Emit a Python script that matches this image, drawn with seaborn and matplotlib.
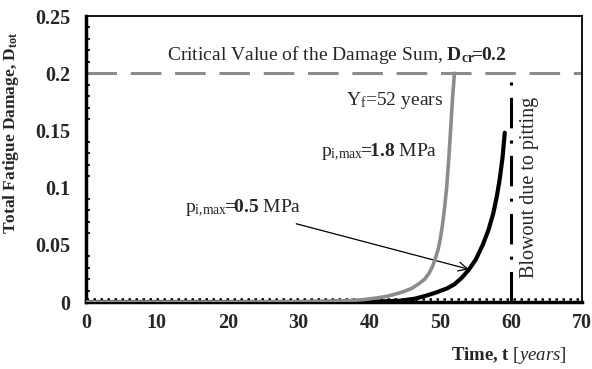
import matplotlib
matplotlib.use("Agg")
import matplotlib.pyplot as plt
import seaborn as sns
import pandas as pd

# ---- data ----
# p_i,max = 1.8 MPa (grey curve)
t_18 = [0, 20, 30, 34, 37, 39, 41, 42.5, 44, 45, 46, 47, 47.8, 48.4, 48.9, 49.3, 49.7,
        50.0, 50.3, 50.6, 50.9, 51.2, 51.5, 51.75, 52.0]
d_18 = [0, 0, 0.0003, 0.0006, 0.0012, 0.002, 0.0035, 0.005, 0.0075, 0.0095, 0.012, 0.016,
        0.02, 0.025, 0.031, 0.038, 0.046, 0.055, 0.067, 0.082, 0.1, 0.125, 0.155, 0.18, 0.2]

# p_i,max = 0.5 MPa (black curve)
t_05 = [0, 30, 38, 42, 44.5, 46.5, 48, 49.5, 51, 52, 53, 54, 55, 56, 56.8, 57.5, 58.0,
        58.4, 58.8, 59.1]
d_05 = [0, 0, 0.0002, 0.0006, 0.0012, 0.003, 0.0055, 0.0085, 0.012, 0.0155, 0.021, 0.028,
        0.037, 0.05, 0.063, 0.078, 0.093, 0.108, 0.127, 0.148]

d_critical = 0.2
t_blowout = 60
d_floor = 0.003

x_ticks = [0, 10, 20, 30, 40, 50, 60, 70]
y_ticks = [0, 0.05, 0.1, 0.15, 0.2, 0.25]
y_tick_labels = ["0", "0.05", "0.1", "0.15", "0.2", "0.25"]

df_18 = pd.DataFrame({"t": t_18, "D": d_18})
df_05 = pd.DataFrame({"t": t_05, "D": d_05})

sns.set_style("white")
plt.rcParams["font.family"] = ["Liberation Serif", "DejaVu Serif"]
plt.rcParams["mathtext.fontset"] = "custom"
plt.rcParams["mathtext.rm"] = "Liberation Serif"
plt.rcParams["mathtext.it"] = "Liberation Serif:italic"
plt.rcParams["mathtext.bf"] = "Liberation Serif:bold"

fig = plt.figure(figsize=(5.92, 3.69), dpi=100)
ax = fig.add_axes([86 / 592, 1 - 302 / 369, 496 / 592, 286 / 369])

# dotted floor line
ax.plot([0, 70], [d_floor, d_floor], color="black", lw=1.8, dashes=(1, 1.8), zorder=3)

sns.lineplot(data=df_05, x="t", y="D", color="black", lw=3, ax=ax, zorder=4,
             solid_joinstyle="round")
sns.lineplot(data=df_18, x="t", y="D", color="#8c8c8c", lw=2.6, ax=ax, zorder=5,
             solid_joinstyle="round")

# critical damage line
ax.axhline(d_critical, color="#8c8c8c", lw=2.2, dashes=(10, 4.5), zorder=2)
# blowout line
ax.plot([t_blowout, t_blowout], [0, d_critical], color="black", lw=2.2,
        dashes=(10, 4, 1, 4), zorder=3)

ax.set_xlim(0, 70)
ax.set_ylim(0, 0.25)
ax.set_xticks(x_ticks)
ax.set_yticks(y_ticks)
ax.set_yticklabels(y_tick_labels)
ax.set_yticks([i * 0.01 for i in range(26)], minor=True)
ax.tick_params(axis="both", which="major", direction="out", length=5, width=2,
               labelsize=14.5)
ax.tick_params(axis="y", which="major", pad=6)
ax.tick_params(axis="x", which="major", pad=3)
ax.tick_params(axis="y", which="minor", direction="in", length=3, width=1.5, left=True)
for lab in ax.get_xticklabels() + ax.get_yticklabels():
    lab.set_fontweight("bold")

for side in ["left", "bottom"]:
    ax.spines[side].set_linewidth(2.5)
for side in ["top", "right"]:
    ax.spines[side].set_linewidth(1.3)
for s in ax.spines.values():
    s.set_color("black")

ax.set_xlabel("")
ax.set_ylabel("")
fig.text(567 / 592, 1 - 356 / 369, r"$\mathbf{Time{,}\ t}$ $\mathit{[years]}$",
         ha="right", va="center", fontsize=13.5)
fig.text(11 / 592, 1 - 133 / 369, r"Total Fatigue Damage, $\mathbf{D_{tot}}$",
         rotation=90, ha="center", va="center", fontsize=12.5, fontweight="bold")

ax.text(35.4, 0.216, r"Critical Value of the Damage Sum, $\mathbf{D_{cr}\!\!=\!\!0.2}$",
        ha="center", va="center", fontsize=14)
ax.text(50.4, 0.176, r"$\mathrm{Y_f}$=52 years", ha="right", va="center", fontsize=14)
ax.text(49.6, 0.131, r"$\mathrm{p_{i{,}max}}\!\!\mathbf{=}\!\!\mathbf{1.8}$ MPa",
        ha="right", va="center", fontsize=14)
ax.text(14.0, 0.082, r"$\mathrm{p_{i{,}max}}\!\!\mathbf{=}\!\!\mathbf{0.5}$ MPa",
        ha="left", va="center", fontsize=14)
ax.annotate("", xy=(54.4, 0.028), xytext=(29.3, 0.069),
            arrowprops=dict(arrowstyle="->", color="black", lw=0.9, mutation_scale=16))
ax.text(62.6, 0.1005, "Blowout due to pitting", rotation=90, ha="center", va="center",
        fontsize=14.5)

fig.savefig("out.png", dpi=100)
